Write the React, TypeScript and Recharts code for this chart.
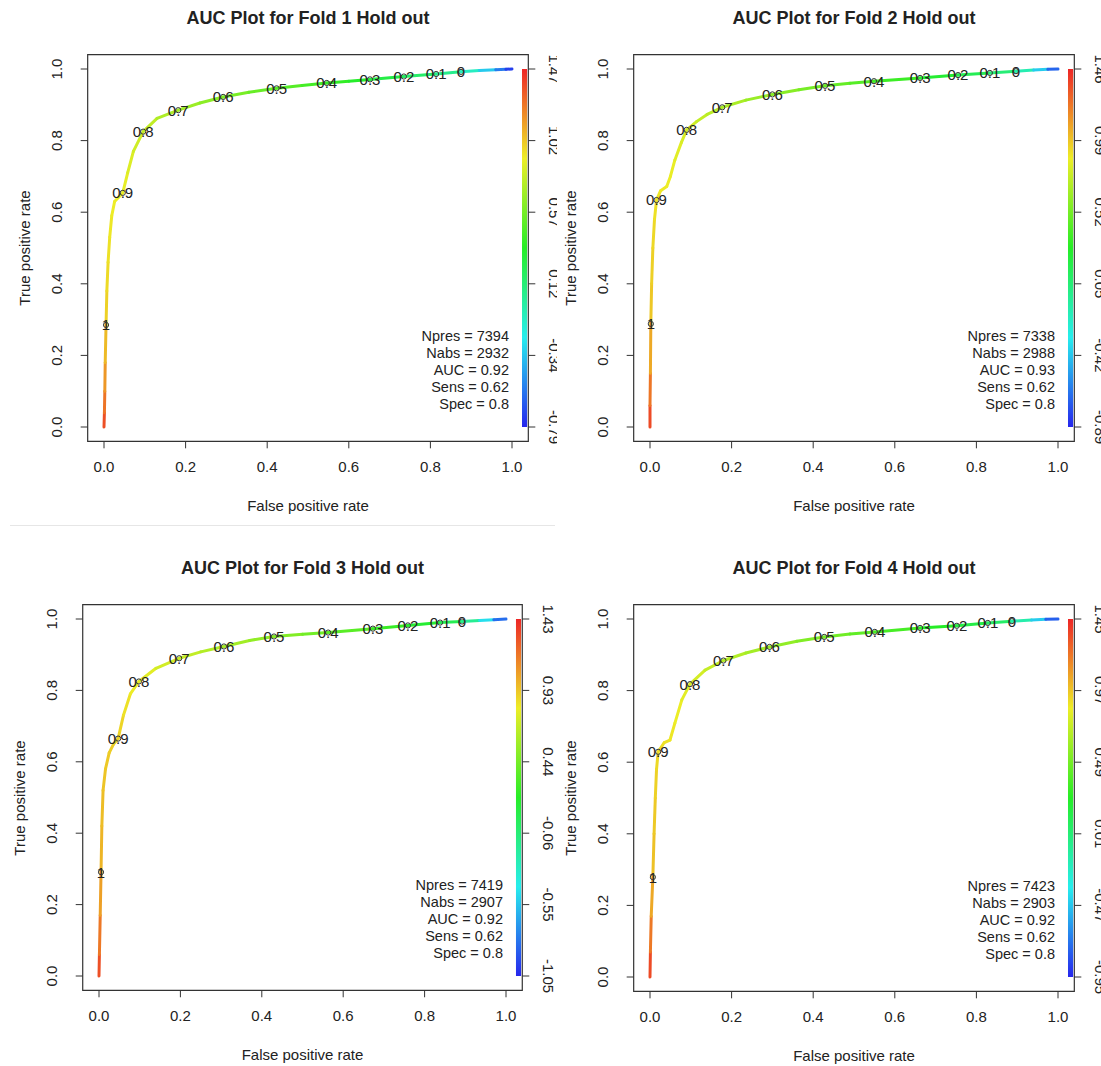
import React from 'react';
import { ComposedChart, Line, Scatter, XAxis, YAxis, ReferenceArea } from 'recharts';

const FONT = '"Liberation Sans", Arial, Helvetica, sans-serif';

const cutoffLabels = ['1', '0.9', '0.8', '0.7', '0.6', '0.5', '0.4', '0.3', '0.2', '0.1', '0'];
const axisTicks = [0, 0.2, 0.4, 0.6, 0.8, 1];
const foldNames = ['1', '2', '3', '4'];

const npresValues = [7394, 7338, 7419, 7423];
const nabsValues = [2932, 2988, 2907, 2903];
const aucValues = [0.92, 0.93, 0.92, 0.92];
const sensValues = [0.62, 0.62, 0.62, 0.62];
const specValues = [0.8, 0.8, 0.8, 0.8];

// Fold 1
const fold1Fpr = [0, 0.001, 0.002, 0.003, 0.005, 0.007, 0.010, 0.014, 0.019, 0.026, 0.046, 0.058, 0.072, 0.096, 0.130, 0.182, 0.235, 0.292, 0.355, 0.423, 0.485, 0.546, 0.600, 0.652, 0.735, 0.814, 0.875, 0.920, 0.960, 0.985, 1.0];
const fold1Tpr = [0, 0.040, 0.100, 0.180, 0.285, 0.380, 0.460, 0.530, 0.590, 0.630, 0.654, 0.710, 0.770, 0.825, 0.862, 0.885, 0.905, 0.922, 0.935, 0.946, 0.954, 0.961, 0.966, 0.971, 0.979, 0.986, 0.992, 0.996, 0.998, 0.999, 1.0];
const fold1Cut = [1.40, 1.30, 1.20, 1.10, 1.00, 0.97, 0.95, 0.93, 0.915, 0.905, 0.90, 0.87, 0.84, 0.80, 0.75, 0.70, 0.65, 0.60, 0.55, 0.50, 0.45, 0.40, 0.35, 0.30, 0.20, 0.10, 0.00, -0.20, -0.45, -0.65, -0.79];
const fold1LabelFpr = [0.005, 0.046, 0.096, 0.182, 0.292, 0.423, 0.546, 0.652, 0.735, 0.814, 0.875];
const fold1LabelTpr = [0.285, 0.654, 0.825, 0.885, 0.922, 0.946, 0.961, 0.971, 0.979, 0.986, 0.992];
const fold1Colorbar = ['1.47', '1.02', '0.57', '0.12', '-0.34', '-0.79'];

// Fold 2
const fold2Fpr = [0, 0.000, 0.001, 0.002, 0.004, 0.007, 0.011, 0.016, 0.026, 0.041, 0.050, 0.061, 0.077, 0.090, 0.114, 0.140, 0.177, 0.235, 0.300, 0.365, 0.429, 0.490, 0.549, 0.662, 0.755, 0.833, 0.897, 0.940, 0.975, 1.0];
const fold2Tpr = [0, 0.060, 0.150, 0.288, 0.400, 0.500, 0.580, 0.634, 0.660, 0.672, 0.700, 0.746, 0.795, 0.830, 0.853, 0.873, 0.893, 0.913, 0.929, 0.942, 0.953, 0.960, 0.966, 0.975, 0.983, 0.989, 0.994, 0.997, 0.999, 1.0];
const fold2Cut = [1.40, 1.30, 1.15, 1.00, 0.97, 0.95, 0.92, 0.90, 0.89, 0.88, 0.87, 0.85, 0.82, 0.80, 0.76, 0.73, 0.70, 0.65, 0.60, 0.55, 0.50, 0.45, 0.40, 0.30, 0.20, 0.10, 0.00, -0.25, -0.55, -0.85];
const fold2LabelFpr = [0.002, 0.016, 0.090, 0.177, 0.300, 0.429, 0.549, 0.662, 0.755, 0.833, 0.897];
const fold2LabelTpr = [0.288, 0.634, 0.830, 0.893, 0.929, 0.953, 0.966, 0.975, 0.983, 0.989, 0.994];
const fold2Colorbar = ['1.46', '0.99', '0.52', '0.05', '-0.42', '-0.89'];

// Fold 3
const fold3Fpr = [0, 0.001, 0.003, 0.005, 0.007, 0.010, 0.016, 0.025, 0.036, 0.047, 0.060, 0.077, 0.098, 0.140, 0.197, 0.250, 0.307, 0.370, 0.430, 0.500, 0.563, 0.673, 0.759, 0.838, 0.892, 0.935, 0.970, 1.0];
const fold3Tpr = [0, 0.060, 0.170, 0.291, 0.420, 0.520, 0.580, 0.625, 0.650, 0.665, 0.730, 0.790, 0.825, 0.862, 0.890, 0.908, 0.923, 0.940, 0.951, 0.957, 0.962, 0.973, 0.982, 0.990, 0.993, 0.996, 0.998, 1.0];
const fold3Cut = [1.35, 1.25, 1.10, 1.00, 0.97, 0.95, 0.93, 0.915, 0.905, 0.90, 0.87, 0.83, 0.80, 0.75, 0.70, 0.65, 0.60, 0.55, 0.50, 0.45, 0.40, 0.30, 0.20, 0.10, 0.00, -0.30, -0.65, -1.00];
const fold3LabelFpr = [0.005, 0.047, 0.098, 0.197, 0.307, 0.430, 0.563, 0.673, 0.759, 0.838, 0.892];
const fold3LabelTpr = [0.291, 0.665, 0.825, 0.890, 0.923, 0.951, 0.962, 0.973, 0.982, 0.990, 0.993];
const fold3Colorbar = ['1.43', '0.93', '0.44', '-0.06', '-0.55', '-1.05'];

// Fold 4
const fold4Fpr = [0, 0.001, 0.003, 0.007, 0.010, 0.013, 0.016, 0.020, 0.035, 0.049, 0.061, 0.078, 0.098, 0.135, 0.180, 0.235, 0.293, 0.360, 0.427, 0.490, 0.551, 0.662, 0.752, 0.828, 0.887, 0.935, 0.970, 1.0];
const fold4Tpr = [0, 0.070, 0.170, 0.279, 0.400, 0.500, 0.580, 0.629, 0.655, 0.662, 0.709, 0.774, 0.818, 0.857, 0.884, 0.905, 0.922, 0.938, 0.950, 0.958, 0.964, 0.975, 0.981, 0.989, 0.994, 0.997, 0.999, 1.0];
const fold4Cut = [1.40, 1.28, 1.12, 1.00, 0.97, 0.95, 0.92, 0.90, 0.89, 0.88, 0.86, 0.83, 0.80, 0.75, 0.70, 0.65, 0.60, 0.55, 0.50, 0.45, 0.40, 0.30, 0.20, 0.10, 0.00, -0.30, -0.60, -0.95];
const fold4LabelFpr = [0.007, 0.020, 0.098, 0.180, 0.293, 0.427, 0.551, 0.662, 0.752, 0.828, 0.887];
const fold4LabelTpr = [0.279, 0.629, 0.818, 0.884, 0.922, 0.950, 0.964, 0.975, 0.981, 0.989, 0.994];
const fold4Colorbar = ['1.45', '0.97', '0.49', '0.01', '-0.47', '-0.95'];

const folds = [
  { fpr: fold1Fpr, tpr: fold1Tpr, cut: fold1Cut, lf: fold1LabelFpr, lt: fold1LabelTpr, cb: fold1Colorbar },
  { fpr: fold2Fpr, tpr: fold2Tpr, cut: fold2Cut, lf: fold2LabelFpr, lt: fold2LabelTpr, cb: fold2Colorbar },
  { fpr: fold3Fpr, tpr: fold3Tpr, cut: fold3Cut, lf: fold3LabelFpr, lt: fold3LabelTpr, cb: fold3Colorbar },
  { fpr: fold4Fpr, tpr: fold4Tpr, cut: fold4Cut, lf: fold4LabelFpr, lt: fold4LabelTpr, cb: fold4Colorbar },
];

// layout: panel box, and pixel positions of data 0 and 1
const layouts = [
  { left: 0, top: 0, w: 557, h: 528, x0: 104, x1: 512, y0: 427, y1: 69 },
  { left: 560, top: 0, w: 541, h: 528, x0: 650, x1: 1058, y0: 427, y1: 69 },
  { left: 0, top: 530, w: 560, h: 536, x0: 99, x1: 506, y0: 976, y1: 619 },
  { left: 560, top: 530, w: 541, h: 536, x0: 650, x1: 1058, y0: 977, y1: 619 },
];

const hueColor = (t: number) => `hsl(${Math.max(0, Math.min(1, t)) * 240}, 85%, 54%)`;
const cutColor = (c: number, hi: number, lo: number) => hueColor((hi - c) / (hi - lo));

const TXT = '#222';

function Panel({ idx }: { idx: number }) {
  const L = layouts[idx];
  const F = folds[idx];
  const sx = L.x1 - L.x0;
  const sy = L.y0 - L.y1;
  const fl = L.x0 - 0.04 * sx - L.left;
  const fr = L.x1 + 0.04 * sx - L.left;
  const ft = L.y1 - 0.04 * sy - L.top;
  const fb = L.y0 + 0.04 * sy - L.top;
  const hi = parseFloat(F.cb[0]);
  const lo = parseFloat(F.cb[F.cb.length - 1]);

  const segments = [];
  for (let i = 0; i < F.fpr.length - 1; i++) {
    segments.push({
      data: [
        { x: F.fpr[i], y: F.tpr[i] },
        { x: F.fpr[i + 1], y: F.tpr[i + 1] },
      ],
      color: cutColor((F.cut[i] + F.cut[i + 1]) / 2, hi, lo),
    });
  }
  const labelPts = F.lf.map((x, i) => ({ x, y: F.lt[i], label: cutoffLabels[i] }));

  const xTick = (p: any) => (
    <text x={p.x} y={p.y + 18} textAnchor="middle" dominantBaseline="central" fontSize={15} fill={TXT} fontFamily={FONT}>
      {Number(p.payload.value).toFixed(1)}
    </text>
  );
  const yTick = (p: any) => {
    const cx = p.x - 24;
    return (
      <text x={cx} y={p.y} transform={`rotate(-90 ${cx} ${p.y})`} textAnchor="middle" dominantBaseline="central" fontSize={15} fill={TXT} fontFamily={FONT}>
        {Number(p.payload.value).toFixed(1)}
      </text>
    );
  };
  const cbTick = (p: any) => {
    const cx = p.x + 19;
    const k = Math.round((1 - Number(p.payload.value)) * 5);
    return (
      <text x={cx} y={p.y} transform={`rotate(90 ${cx} ${p.y})`} textAnchor="middle" dominantBaseline="central" fontSize={15} fill={TXT} fontFamily={FONT}>
        {F.cb[k]}
      </text>
    );
  };
  const gradId = `cbgrad${idx}`;
  const colorbarShape = (p: any) => (
    <g>
      <defs>
        <linearGradient id={gradId} x1="0" y1="0" x2="0" y2="1">
          <stop offset="0" stopColor={hueColor(0)} />
          <stop offset="0.25" stopColor={hueColor(0.25)} />
          <stop offset="0.5" stopColor={hueColor(0.5)} />
          <stop offset="0.75" stopColor={hueColor(0.75)} />
          <stop offset="1" stopColor={hueColor(1)} />
        </linearGradient>
      </defs>
      <rect x={p.x} y={p.y} width={p.width} height={p.height} fill={`url(#${gradId})`} />
    </g>
  );
  const labelShape = (p: any) => (
    <g>
      <text x={p.cx} y={p.cy} dy="0.36em" textAnchor="middle" fontSize={15} fill={TXT} fontFamily={FONT}>
        {p.payload.label}
      </text>
      <circle cx={p.cx} cy={p.cy} r={2.6} fill="none" stroke="#333" strokeWidth={1} />
    </g>
  );

  return (
    <div style={{ position: 'absolute', left: L.left, top: L.top, width: L.w, height: L.h }}>
      <ComposedChart width={L.w} height={L.h} margin={{ top: ft, right: 0, bottom: 0, left: 0 }}>
        <XAxis
          dataKey="x"
          type="number"
          domain={[-0.04, 1.04]}
          ticks={axisTicks}
          interval={0}
          allowDataOverflow
          height={L.h - fb}
          tickSize={7}
          tickMargin={0}
          axisLine={false}
          tickLine={{ stroke: '#333' }}
          tick={xTick}
        />
        <YAxis
          dataKey="y"
          type="number"
          domain={[-0.04, 1.04]}
          ticks={axisTicks}
          interval={0}
          allowDataOverflow
          width={fl}
          tickSize={7}
          tickMargin={0}
          axisLine={false}
          tickLine={{ stroke: '#333' }}
          tick={yTick}
        />
        <YAxis
          yAxisId="cb"
          orientation="right"
          type="number"
          domain={[-0.04, 1.04]}
          ticks={axisTicks}
          interval={0}
          allowDataOverflow
          width={L.w - fr}
          tickSize={7}
          tickMargin={0}
          axisLine={false}
          tickLine={{ stroke: '#333' }}
          tick={cbTick}
        />
        <ReferenceArea x1={-0.04} x2={1.04} y1={-0.04} y2={1.04} fill="none" fillOpacity={0} stroke="#333" strokeWidth={1.2} ifOverflow="visible" />
        <ReferenceArea x1={1.0245} x2={1.037} y1={0} y2={1} ifOverflow="visible" shape={colorbarShape} />
        {segments.map((s, i) => (
          <Line
            key={`seg${i}`}
            data={s.data}
            dataKey="y"
            stroke={s.color}
            strokeWidth={3}
            strokeLinecap="round"
            dot={false}
            activeDot={false}
            isAnimationActive={false}
            type="linear"
          />
        ))}
        <Scatter data={labelPts} dataKey="y" shape={labelShape} isAnimationActive={false} />
      </ComposedChart>
    </div>
  );
}

function PanelTexts({ idx }: { idx: number }) {
  const L = layouts[idx];
  const sx = L.x1 - L.x0;
  const sy = L.y0 - L.y1;
  const fl = L.x0 - 0.04 * sx;
  const fr = L.x1 + 0.04 * sx;
  const ft = L.y1 - 0.04 * sy;
  const fb = L.y0 + 0.04 * sy;
  const cx = (fl + fr) / 2;
  const cy = (ft + fb) / 2;
  const base: React.CSSProperties = {
    position: 'absolute',
    whiteSpace: 'nowrap',
    lineHeight: 1,
    fontFamily: FONT,
    color: TXT,
  };
  const stats = [
    `Npres = ${npresValues[idx]}`,
    `Nabs = ${nabsValues[idx]}`,
    `AUC = ${aucValues[idx]}`,
    `Sens = ${sensValues[idx]}`,
    `Spec = ${specValues[idx]}`,
  ];
  return (
    <>
      <div style={{ ...base, left: cx, top: ft - 37, transform: 'translate(-50%,-50%)', fontSize: 18, fontWeight: 'bold' }}>
        {`AUC Plot for Fold ${foldNames[idx]} Hold out`}
      </div>
      <div style={{ ...base, left: cx, top: fb + 64, transform: 'translate(-50%,-50%)', fontSize: 15 }}>False positive rate</div>
      <div style={{ ...base, left: fl - 64, top: cy, transform: 'translate(-50%,-50%) rotate(-90deg)', fontSize: 15 }}>True positive rate</div>
      {stats.map((s, i) => (
        <div key={i} style={{ ...base, left: L.x1 - 3, top: fb - 105 + i * 17, transform: 'translate(-100%,-50%)', fontSize: 14.5 }}>
          {s}
        </div>
      ))}
    </>
  );
}

export default function App() {
  return (
    <div style={{ position: 'absolute', left: 0, top: 0, width: 1101, height: 1066, overflow: 'hidden', background: '#fff' }}>
      <div style={{ position: 'absolute', left: 10, top: 525, width: 545, height: 1, background: '#e6e6e6' }} />
      {[0, 1, 2, 3].map((i) => (
        <Panel key={i} idx={i} />
      ))}
      {[0, 1, 2, 3].map((i) => (
        <PanelTexts key={`t${i}`} idx={i} />
      ))}
    </div>
  );
}
